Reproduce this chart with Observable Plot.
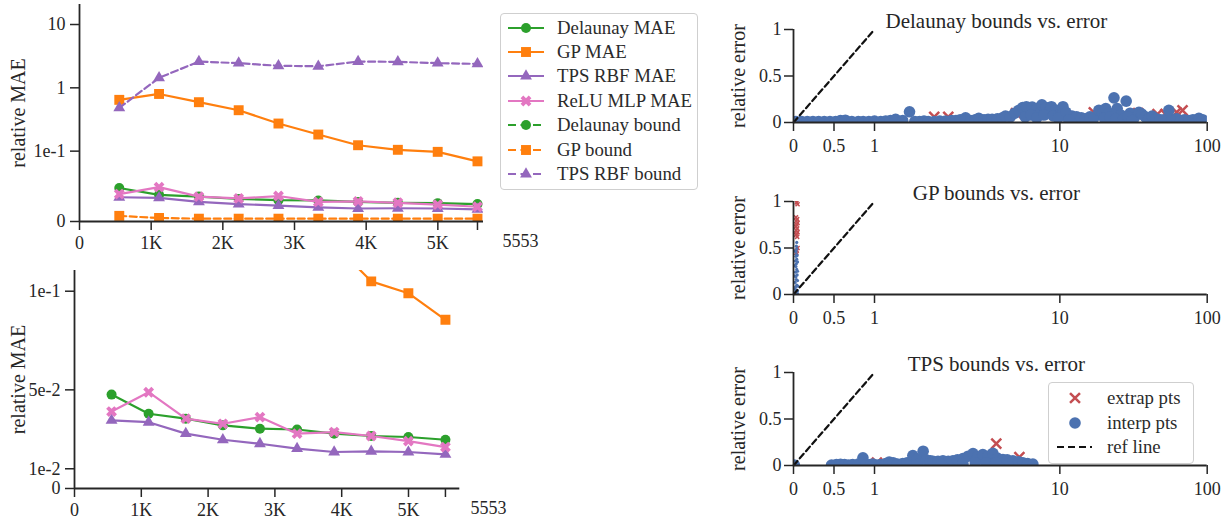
<!DOCTYPE html>
<html><head><meta charset="utf-8">
<script src="https://cdn.jsdelivr.net/npm/d3@7"></script>
<script src="https://cdn.jsdelivr.net/npm/@observablehq/plot@0.6"></script>
<style>
body{margin:0;background:#fff;width:1227px;height:525px;position:relative;overflow:hidden;font-family:"Liberation Serif",serif;color:#2b2b2b}
.p{position:absolute}
.p svg{overflow:visible}
.legend{position:absolute;border:1.2px solid #cfcfcf;border-radius:4px;background:rgba(255,255,255,0.85);font-size:18.8px;box-sizing:border-box}
.row{position:absolute;left:0;display:flex;align-items:center;height:24px;white-space:nowrap}
.row svg{flex:none}
</style></head><body>
<div id="tl" class="p" style="left:0;top:0"></div>
<div id="bl" class="p" style="left:0;top:266px"></div>
<div id="tr" class="p" style="left:700px;top:0"></div>
<div id="mr" class="p" style="left:700px;top:172px"></div>
<div id="br" class="p" style="left:700px;top:343px"></div>
<div id="legL" class="legend" style="left:500px;top:13px;width:198px;height:177px"></div>
<div id="legR" class="legend" style="left:1048px;top:382px;width:146px;height:82px"></div>
<script>
// ---------- data: left panels ----------
const nPoints = [555, 1110, 1666, 2221, 2776, 3332, 3887, 4442, 4998, 5553];
const delaunayMAE = [0.0476, 0.0379, 0.0354, 0.0320, 0.0303, 0.0299, 0.0278, 0.0266, 0.0261, 0.0247];
const gpMAE = [0.646, 0.80, 0.593, 0.443, 0.273, 0.183, 0.124, 0.105, 0.099, 0.0855];
const tpsMAE = [0.0345, 0.0336, 0.0278, 0.0247, 0.0227, 0.0202, 0.0185, 0.0188, 0.0185, 0.0173];
const reluMAE = [0.0390, 0.0488, 0.0354, 0.0328, 0.0362, 0.0278, 0.0286, 0.0266, 0.0240, 0.0210];
const delaunayBound = [null, null, null, null, null, null, null, null, null, null];
const gpBound = [0.008, 0.005, 0.004, 0.004, 0.004, 0.004, 0.004, 0.004, 0.004, 0.004];
const tpsBound = [0.483, 1.44, 2.60, 2.45, 2.23, 2.19, 2.60, 2.57, 2.45, 2.39];
const xTicksK = [0, 1000, 2000, 3000, 4000, 5000];
const xTickLabelsK = ["0", "1K", "2K", "3K", "4K", "5K"];
const topYTicks = [0, 0.1, 1, 10];
const topYLabels = ["0", "1e-1", "1", "10"];
const botYTicks = [0, 0.01, 0.05, 0.1];
const botYLabels = ["0", "1e-2", "5e-2", "1e-1"];

// ---------- data: right panels ----------
const delBlueX = [0.03,0.1,0.17,0.24,0.31,0.38,0.45,0.52,0.58,0.64,0.72,0.8,0.86,0.93,1.0,1.08,1.15,1.22,1.3,1.42,1.545,1.65,1.75,1.85,1.95,2.1,2.25,2.42,2.6,2.75,2.9,3.1,3.3,3.5,3.65,3.9,4.1,4.31,4.6,4.9,5.09,5.4,5.7,6.0,6.3,6.6,7.09,7.5,7.8,8.0,8.4,8.8,9.0,9.5,10,10.5,11.2,12.1,13,14,14.9,16,17,18.4,19.5,20.5,21.5,23.3,24.5,26,28.2,30,32,34.4,36,38,40,42.3,45,48,51,54.9,58,62,66,70,75,80,87.8,93,98,6.5,7,7.5,8.2,9.2,9.8,11,11.5,20,22,24,27,29,31];
const delBlueY = [0.01,0.01,0.01,0.01,0.01,0.01,0.01,0.01,0.02,0.025,0.01,0.01,0.01,0.01,0.015,0.01,0.015,0.02,0.035,0.02,0.115,0.01,0.01,0.015,0.01,0.01,0.015,0.015,0.02,0.02,0.03,0.05,0.02,0.03,0.045,0.03,0.035,0.035,0.04,0.05,0.07,0.06,0.1,0.13,0.16,0.17,0.165,0.15,0.1,0.19,0.16,0.12,0.17,0.13,0.08,0.17,0.06,0.07,0.06,0.05,0.04,0.06,0.05,0.13,0.1,0.15,0.1,0.265,0.15,0.08,0.23,0.1,0.05,0.11,0.09,0.06,0.04,0.07,0.04,0.03,0.03,0.13,0.03,0.04,0.02,0.03,0.02,0.03,0.045,0.03,0.01,0.06,0.08,0.05,0.08,0.07,0.05,0.11,0.03,0.05,0.06,0.04,0.04,0.06,0.02];
const delRedX = [2.1, 2.5, 5.8, 17, 34, 46, 52, 62, 68];
const delRedY = [0.06, 0.06, 0.1, 0.11, 0.1, 0.09, 0.09, 0.11, 0.13];

const gpBlueX = [0.02,0.03,0.025,0.04,0.02,0.035,0.03,0.045,0.025,0.04,0.03,0.035,0.025,0.04,0.03,0.035,0.03,0.04,0.035,0.04,0.05,0.055,0.015,0.05,0.015,0.05,0.015,0.05,0.045,0.02,0.05,0.01];
const gpBlueY = [0.02,0.05,0.08,0.1,0.13,0.16,0.19,0.21,0.24,0.27,0.3,0.33,0.36,0.38,0.41,0.43,0.46,0.49,0.52,0.56,0.04,0.09,0.06,0.15,0.2,0.25,0.31,0.35,0.42,0.47,0.01,0.01];
const gpRedX = [0.04,0.05,0.03,0.045,0.035,0.05,0.04,0.03,0.045,0.035,0.05,0.04,0.03,0.045,0.04,0.035,0.05];
const gpRedY = [0.99,0.97,0.83,0.81,0.79,0.77,0.75,0.73,0.71,0.69,0.67,0.65,0.64,0.62,0.47,0.45,0.5];

const tpsBlueX = [0.01,0.47,0.53,0.58,0.63,0.68,0.73,0.8,0.857,0.9,0.95,0.98,1.03,1.08,1.15,1.2,1.26,1.33,1.42,1.5,1.61,1.7,1.83,1.9,2.0,2.07,2.2,2.34,2.5,2.65,2.8,3.0,3.2,3.4,3.6,3.84,4.1,4.35,4.6,4.93,5.2,5.58,6.0,6.31,6.7,7.15,1.7,2.3,3.0,3.5,4.0,4.5];
const tpsBlueY = [0.005,0.005,0.01,0.012,0.011,0.005,0.01,0.015,0.082,0.01,0.01,0.015,0.005,0.01,0.02,0.036,0.03,0.015,0.02,0.03,0.107,0.07,0.154,0.06,0.05,0.046,0.045,0.05,0.045,0.05,0.06,0.075,0.1,0.128,0.09,0.118,0.1,0.13,0.08,0.064,0.06,0.05,0.04,0.03,0.02,0.015,0.01,0.01,0.02,0.03,0.03,0.03];
const tpsRedX = [1.03, 4.54, 6.05];
const tpsRedY = [0.03, 0.235, 0.09];

const refLineX = [0, 1];
const refLineY = [0, 1];
const rightXTicks = [0, 0.5, 1, 10, 100];
const rightXLabels = ["0", "0.5", "1", "10", "100"];
const rightYTicks = [0, 0.5, 1];
const rightYLabels = ["0", "0.5", "1"];

// ---------- styles ----------
const GREEN = "#2ca02c", ORANGE = "#ff7f0e", PURPLE = "#9467bd", PINK = "#e377c2";
const BLUE = "#4c72b0", RED = "#c44e52", INK = "#262626";
const FONT = "'Liberation Serif', 'DejaVu Serif', serif";

// filled "X" marker (matplotlib style)
const symbolXFilled = {
  draw(ctx, size) {
    const s = Math.sqrt(size), b = 0.6 * s, a = 0.2 * s;
    const pts = [[-a,-b],[a,-b],[a,-a],[b,-a],[b,a],[a,a],[a,b],[-a,b],[-a,a],[-b,a],[-b,-a],[-a,-a]]
      .map(([x, y]) => [(x - y) / Math.SQRT2, (x + y) / Math.SQRT2]);
    ctx.moveTo(pts[0][0], pts[0][1]);
    for (let i = 1; i < pts.length; i++) ctx.lineTo(pts[i][0], pts[i][1]);
    ctx.closePath();
  }
};

// symlog (matplotlib-like, linthresh 0.1, linscale 1)
const LT = 0.1, LS = 1 / (1 - 1 / 10);
const symT = v => v <= LT ? v / LT * LS : LS + Math.log10(v / LT);
// compressed log x scale of the right panels
const xT = v => v <= 1 ? v : v <= 10 ? 1 + 2.288 * Math.log10(v) : 3.288 + 1.819 * Math.log10(v / 10);

const series = [
  {label: "Delaunay MAE", values: delaunayMAE, color: GREEN, dash: null, symbol: "circle", r: 5, mae: true},
  {label: "GP MAE", values: gpMAE, color: ORANGE, dash: null, symbol: "square", r: 5.6, mae: true},
  {label: "TPS RBF MAE", values: tpsMAE, color: PURPLE, dash: null, symbol: "triangle", r: 4.4, mae: true},
  {label: "ReLU MLP MAE", values: reluMAE, color: PINK, dash: null, symbol: symbolXFilled, r: 5.4, mae: true},
  {label: "Delaunay bound", values: delaunayBound, color: GREEN, dash: "7,3.5", symbol: "circle", r: 5, mae: false},
  {label: "GP bound", values: gpBound, color: ORANGE, dash: "7,3.5", symbol: "square", r: 5.6, mae: false},
  {label: "TPS RBF bound", values: tpsBound, color: PURPLE, dash: "7,3.5", symbol: "triangle", r: 4.4, mae: false}
];
const symMap = {circle: d3.symbolCircle, square: d3.symbolSquare, triangle: d3.symbolTriangle};

function seriesMarks(list) {
  return list.flatMap(s => {
    const rows = nPoints.map((n, i) => ({n, v: s.values[i]})).filter(d => d.v != null);
    if (!rows.length) return [];
    return [
      Plot.line(rows, {x: "n", y: "v", stroke: s.color, strokeWidth: 2.2, strokeDasharray: s.dash, clip: true}),
      Plot.dot(rows, {x: "n", y: "v", symbol: s.symbol, fill: s.color, r: s.r, clip: true})
    ];
  });
}

const baseStyle = {fontFamily: FONT, fontSize: "18px", color: INK, background: "transparent", overflow: "visible"};
const spine = {stroke: INK, strokeWidth: 1.8};

function leftPanel({height, width, ml, mr, mt, mb, xMax, yScale, yTicks, yLabels, list, labelDx}) {
  const ylab = new Map(yTicks.map((t, i) => [t, yLabels[i]]));
  const xlab = new Map(xTicksK.map((t, i) => [t, xTickLabelsK[i]]));
  return Plot.plot({
    width, height, marginLeft: ml, marginRight: mr, marginTop: mt, marginBottom: mb,
    style: baseStyle,
    x: {domain: [0, xMax], label: null},
    y: {...yScale, label: null},
    marks: [
      ...seriesMarks(list),
      Plot.ruleX([0], spine),
      Plot.ruleY([0], spine),
      Plot.axisX(xTicksK, {tickSize: 9, tickPadding: 6, strokeWidth: 1.5, label: null, tickFormat: d => xlab.get(d)}),
      Plot.axisX([5553], {tickSize: 9, strokeWidth: 1.5, label: null, tickFormat: () => ""}),
      Plot.text(["5553"], {x: () => 5553, frameAnchor: "bottom", dy: 25, dx: 25, textAnchor: "start"}),
      Plot.axisY(yTicks, {tickSize: 9, tickPadding: 5, strokeWidth: 1.5, label: null, tickFormat: d => ylab.get(d)}),
      Plot.text(["relative MAE"], {frameAnchor: "left", textAnchor: "middle", rotate: -90, dx: labelDx, fontSize: 20})
    ]
  });
}

document.getElementById("tl").append(leftPanel({
  width: 500, height: 255, ml: 79, mr: 17, mt: 4, mb: 34, xMax: 5637,
  yScale: {type: "linear", transform: symT, domain: [0, symT(20.7)]},
  yTicks: topYTicks, yLabels: topYLabels,
  list: series, labelDx: -61
}));

document.getElementById("bl").append(leftPanel({
  width: 480, height: 256, ml: 74, mr: 20.7, mt: 4, mb: 34, xMax: 5768,
  yScale: {type: "linear", domain: [0, 0.1105]},
  yTicks: botYTicks, yLabels: botYLabels,
  list: series.filter(s => s.mae), labelDx: -56
}));

function scatterPanel({title, bx, by, rx, ry, rBlue, rRed, redW}) {
  const blue = bx.map((x, i) => ({x, y: by[i]}));
  const red = rx.map((x, i) => ({x, y: ry[i]}));
  const ref = refLineX.map((x, i) => ({x, y: refLineY[i]}));
  const xlab = new Map(rightXTicks.map((t, i) => [t, rightXLabels[i]]));
  const ylab = new Map(rightYTicks.map((t, i) => [t, rightYLabels[i]]));
  return Plot.plot({
    width: 527, height: 150, marginLeft: 93, marginRight: 20.3, marginTop: 29, marginBottom: 28,
    style: baseStyle,
    x: {type: "linear", transform: xT, domain: [0, xT(100)], label: null},
    y: {domain: [0, 1], label: null},
    marks: [
      Plot.dot(red, {x: "x", y: "y", symbol: "times", stroke: RED, strokeWidth: redW, r: rRed, clip: true}),
      Plot.dot(blue, {x: "x", y: "y", fill: BLUE, r: rBlue, clip: true}),
      Plot.line(ref, {x: "x", y: "y", stroke: "#111", strokeWidth: 2.2, strokeDasharray: "6,3.5"}),
      Plot.ruleX([0], spine),
      Plot.ruleY([0], spine),
      Plot.axisX(rightXTicks, {tickSize: 9, tickPadding: 8, strokeWidth: 1.5, label: null, tickFormat: d => xlab.get(d)}),
      Plot.axisY(rightYTicks, {tickSize: 9, tickPadding: 3, strokeWidth: 1.5, label: null, tickFormat: d => ylab.get(d)}),
      Plot.text([title], {frameAnchor: "top", dy: -16, dx: -4, fontSize: 21}),
      Plot.text(["relative error"], {frameAnchor: "left", textAnchor: "middle", rotate: -90, dx: -55, fontSize: 20})
    ]
  });
}

document.getElementById("tr").append(scatterPanel({title: "Delaunay bounds vs. error", bx: delBlueX, by: delBlueY, rx: delRedX, ry: delRedY, rBlue: 5.8, rRed: 4.6, redW: 2.5}));
document.getElementById("mr").append(scatterPanel({title: "GP bounds vs. error", bx: gpBlueX, by: gpBlueY, rx: gpRedX, ry: gpRedY, rBlue: 1.6, rRed: 2, redW: 1.5}));
document.getElementById("br").append(scatterPanel({title: "TPS bounds vs. error", bx: tpsBlueX, by: tpsBlueY, rx: tpsRedX, ry: tpsRedY, rBlue: 5.8, rRed: 4.6, redW: 2.5}));

// ---------- legends ----------
function swatch(s) {
  const svg = d3.create("svg").attr("width", 40).attr("height", 24);
  svg.append("line").attr("x1", 2).attr("x2", 38).attr("y1", 12).attr("y2", 12)
    .attr("stroke", s.color).attr("stroke-width", 2.2).attr("stroke-dasharray", s.dash ? "8,4.5" : null);
  const type = typeof s.symbol === "string" ? symMap[s.symbol] : s.symbol;
  svg.append("path").attr("transform", "translate(20,12)")
    .attr("d", d3.symbol(type, s.r * s.r * Math.PI)()).attr("fill", s.color);
  return svg.node();
}
const legL = document.getElementById("legL");
series.forEach((s, i) => {
  const row = document.createElement("div");
  row.className = "row";
  row.style.top = (1.5 + i * 24.4) + "px";
  row.style.left = "5px";
  row.append(swatch(s));
  const t = document.createElement("span");
  t.textContent = s.label;
  t.style.marginLeft = "11px";
  row.append(t);
  legL.append(row);
});

const legRItems = [
  {label: "extrap pts", kind: "x"},
  {label: "interp pts", kind: "dot"},
  {label: "ref line", kind: "line"}
];
const legR = document.getElementById("legR");
legRItems.forEach((it, i) => {
  const row = document.createElement("div");
  row.className = "row";
  row.style.top = (3 + i * 24.7) + "px";
  row.style.left = "5px";
  const svg = d3.create("svg").attr("width", 40).attr("height", 24);
  if (it.kind === "x") svg.append("path").attr("transform", "translate(21,12)").attr("d", d3.symbol(d3.symbolTimes, 4.6 * 4.6 * Math.PI)()).attr("fill", "none").attr("stroke", RED).attr("stroke-width", 2.5);
  if (it.kind === "dot") svg.append("circle").attr("cx", 21).attr("cy", 12).attr("r", 5.8).attr("fill", BLUE);
  if (it.kind === "line") svg.append("line").attr("x1", 3).attr("x2", 38).attr("y1", 12).attr("y2", 12).attr("stroke", "#111").attr("stroke-width", 2.2).attr("stroke-dasharray", "7,4");
  row.append(svg.node());
  const t = document.createElement("span");
  t.textContent = it.label;
  t.style.marginLeft = "13px";
  row.append(t);
  legR.append(row);
});
</script>
</body></html>
